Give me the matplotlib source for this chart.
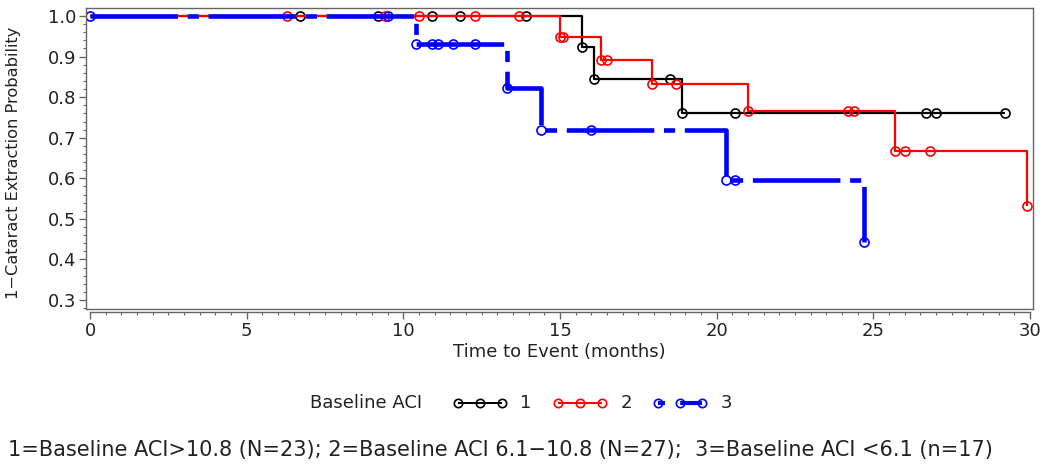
import matplotlib
matplotlib.use("Agg")
import matplotlib.pyplot as plt
import numpy as np
from matplotlib.lines import Line2D
from matplotlib.ticker import MultipleLocator, FormatStrFormatter

plt.rcParams['font.family'] = ['DejaVu Sans']
plt.rcParams['lines.scale_dashes'] = False

# Kaplan-Meier steps
t1 = [0, 15.7, 16.1, 18.9]
s1 = [1.0, 0.923, 0.845, 0.761]
end1 = 29.2
c1 = [6.7, 9.2, 10.9, 11.8, 13.9, 15.7, 16.1, 18.5, 18.9, 20.6, 26.7, 27.0, 29.2]

t2 = [0, 15.0, 16.3, 17.95, 21.0, 25.7, 29.9]
s2 = [1.0, 0.949, 0.891, 0.832, 0.766, 0.668, 0.532]
end2 = 29.9
c2 = [6.3, 9.4, 10.5, 12.3, 13.7, 15.0, 15.1, 16.3, 16.5, 17.95, 18.7,
      21.0, 24.2, 24.4, 25.7, 26.0, 26.8, 29.9]

t3 = [0, 10.4, 13.3, 14.4, 20.3, 24.7]
s3 = [1.0, 0.930, 0.823, 0.719, 0.596, 0.444]
end3 = 24.7
c3 = [0, 9.5, 10.4, 10.9, 11.1, 11.6, 12.3, 13.3, 14.4, 16.0, 20.3, 20.6, 24.7]

groups = ["1", "2", "3"]
footnote = ("1=Baseline ACI>10.8 (N=23); 2=Baseline ACI 6.1\u221210.8 (N=27);  "
            "3=Baseline ACI <6.1 (n=17)")

txt = '#222222'
axc = '#666666'
fs = 13
blue_dash = (0, (63, 7, 8, 7))

styles = [
    dict(color='black', lw=1.6, ls='-'),
    dict(color='#ff0000', lw=1.6, ls='-'),
    dict(color='#0000ff', lw=3.3, ls=blue_dash),
]

fig = plt.figure(figsize=(10.5, 4.68), dpi=100)
ax = fig.add_axes([86 / 1050, 1 - 309 / 468, (1033 - 86) / 1050, (309 - 8) / 468])

for t, s, end, c, st in zip([t1, t2, t3], [s1, s2, s3], [end1, end2, end3],
                            [c1, c2, c3], styles):
    x = list(t) + [end]
    y = list(s) + [s[-1]]
    ax.plot(x, y, drawstyle='steps-post', color=st['color'], lw=st['lw'],
            ls=st['ls'], solid_capstyle='butt', dash_capstyle='butt')
    idx = np.searchsorted(t, c, side='right') - 1
    cy = np.array(s)[idx]
    ax.plot(c, cy, ls='none', marker='o', ms=6.5, mfc='none',
            mec=st['color'], mew=1.2)

ax.set_xlim(-0.13, 30.1)
ax.set_ylim(0.278, 1.0197)

ax.xaxis.set_major_locator(MultipleLocator(5))
ax.xaxis.set_minor_locator(MultipleLocator(0.5))
ax.yaxis.set_minor_locator(MultipleLocator(0.02))
ax.set_yticks(np.arange(0.3, 1.001, 0.1))
ax.yaxis.set_major_formatter(FormatStrFormatter('%.1f'))

for sp in ax.spines.values():
    sp.set_color(axc)
    sp.set_linewidth(1.0)
ax.spines['bottom'].set_position(('outward', 2.5))
ax.spines['bottom'].set_bounds(0, 30)
ax.plot([0, 1], [0, 0], transform=ax.transAxes, color=axc, lw=1.0, clip_on=False)

ax.tick_params(axis='both', which='major', direction='out', length=5, width=1.0,
               color=axc, labelcolor=txt, labelsize=fs)
ax.tick_params(axis='both', which='minor', direction='out', length=2.5, width=0.8,
               color=axc)
ax.tick_params(axis='x', which='major', pad=2)
ax.tick_params(axis='y', which='major', pad=2)

ax.set_xlabel('Time to Event (months)', fontsize=fs, color=txt)
ax.xaxis.set_label_coords(0.5, -(352 - 309) / 301, transform=ax.transAxes)
ax.xaxis.label.set_va('center')
ax.set_ylabel('1\u2212Cataract Extraction Probability', fontsize=11.7, color=txt)
ax.yaxis.set_label_coords(-(86 - 14) / 947, (309 - 163) / 301)
ax.yaxis.label.set_va('center')

# legend row, drawn in figure pixels
ly = 1 - 403 / 468
fig.text(310 / 1050, ly, 'Baseline ACI', fontsize=fs, color=txt, va='center', ha='left')
handle_x = [458, 558, 658]
for hx, st, g in zip(handle_x, styles, groups):
    xs = np.array([hx, hx + 22, hx + 44]) / 1050
    ls = st['ls'] if st['ls'] == '-' else (0, (5, 11, 40))
    fig.add_artist(Line2D(xs, [ly] * 3, transform=fig.transFigure, color=st['color'],
                          lw=st['lw'] * 0.9, ls=ls, solid_capstyle='butt'))
    fig.add_artist(Line2D(xs, [ly] * 3, transform=fig.transFigure, ls='none',
                          marker='o', ms=6, mfc='none', mec=st['color'], mew=1.2))
    fig.text((hx + 68) / 1050, ly, g, fontsize=fs, color=txt, va='center', ha='center')

fig.text(8 / 1050, 1 - 450 / 468, footnote, fontsize=15, color=txt,
         va='center', ha='left')

fig.savefig('out.png', dpi=100)
